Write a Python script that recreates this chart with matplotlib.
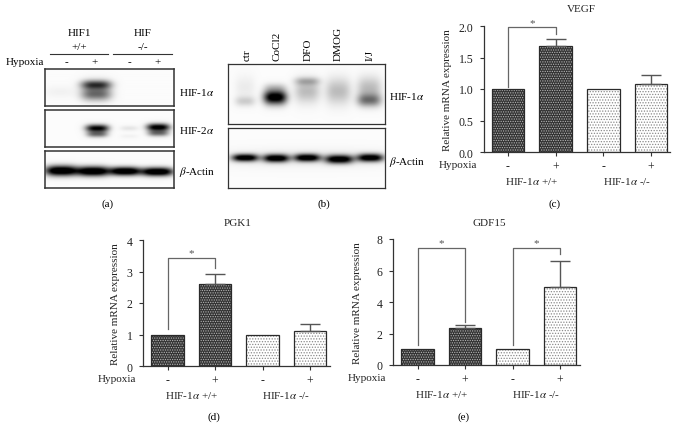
import numpy as np
import matplotlib
matplotlib.use("Agg")
import matplotlib.pyplot as plt

W = 682
H = 439

plt.rcParams['font.family'] = ['Liberation Serif', 'DejaVu Serif']
plt.rcParams['mathtext.fontset'] = 'stix'
plt.rcParams['hatch.linewidth'] = 0.6

hypoxia_signs = ['-', '+', '-', '+']
group_wt = r'HIF-1$\alpha$ +/+'
group_ko = r'HIF-1$\alpha$ -/-'

vegf_values = [1.0, 1.69, 1.0, 1.08]
vegf_errors = [0, 0.11, 0, 0.14]
vegf_ticks = [0.0, 0.5, 1.0, 1.5, 2.0]

pgk1_values = [1.0, 2.6, 1.0, 1.1]
pgk1_errors = [0, 0.31, 0, 0.24]
pgk1_ticks = [0, 1, 2, 3, 4]

gdf15_values = [1.0, 2.32, 1.0, 4.97]
gdf15_errors = [0, 0.2, 0, 1.62]
gdf15_ticks = [0, 2, 4, 6, 8]

treatments = ['ctr', 'CoCl2', 'DFO', 'DMOG', 'I/J']
treatment_x = [247, 277, 308, 338, 370]

# blot bands: centre x, centre y, half width, sigma y, strength (pixels of the figure)
blot_a1 = [(96, 86, 15, 3.0, 0.5), (96, 96, 15, 4, 0.3), (96, 91, 15, 6, 0.22), (60, 93, 16, 4, 0.03)]
blot_a2 = [(97, 129, 11.5, 2.6, 0.8), (97, 135, 10.5, 2.2, 0.42),
           (158, 128, 11.5, 2.6, 0.85), (158, 134, 10.5, 2.2, 0.42),
           (129, 129, 9, 1.8, 0.07), (129, 137, 9, 1.5, 0.03)]
blot_a3 = [(61, 171.5, 16, 3.6, 1.0), (93, 172, 16.5, 3.4, 1.0),
           (125, 172, 15, 3.0, 1.0), (157, 172.5, 16, 3.0, 1.0)]
blot_b1 = [(245, 102, 10, 3.5, 0.14), (245, 88, 10, 8, 0.05),
           (275, 98, 11.5, 5, 0.9), (275, 88, 11, 3, 0.12),
           (307, 82, 12.5, 2.8, 0.2), (307, 92, 12.5, 8, 0.2),
           (338, 92, 12.5, 9, 0.2), (369, 101, 12, 4.5, 0.4), (369, 89, 12, 8, 0.2)]
blot_b2 = [(245, 158.5, 13, 2.6, 0.9), (276, 159, 13, 2.8, 0.9), (307, 158.5, 13, 2.7, 0.9),
           (339, 160, 14, 3.0, 0.9), (370, 158.5, 13, 2.8, 0.9), (307, 159, 90, 6, 0.06)]


def px_axes(x0, y0, x1, y1):
    return fig.add_axes([x0 / W, 1 - y1 / H, (x1 - x0) / W, (y1 - y0) / H])


def draw_blot(x0, y0, x1, y1, bands, line_w=1.1):
    ax = px_axes(x0, y0, x1, y1)
    xx, yy = np.meshgrid(np.arange(x0, x1, 0.5), np.arange(y0, y1, 0.5))
    dark = np.zeros(xx.shape)
    for cx, cy, hw, sy, s in bands:
        dark += s * np.exp(-np.abs((xx - cx) / hw) ** 3) * np.exp(-((yy - cy) / sy) ** 2 / 2)
    img = 1 - 1.25 * np.clip(dark, 0, 1) - 0.015
    ax.imshow(img, cmap='gray', vmin=0, vmax=1, aspect='auto', interpolation='bilinear',
              extent=(x0, x1, y1, y0))
    ax.set_xticks([])
    ax.set_yticks([])
    for s in ax.spines.values():
        s.set_linewidth(line_w)
        s.set_color('#333333')


def draw_bars(box, centers, values, errors, ticks, ymax, fmt, brackets, title, title_x, title_y, label_x):
    x0, y0, x1, y1 = box
    ax = px_axes(x0, y0, x1, y1)
    step = (centers[3] - centers[0]) / 3
    ax.set_xlim((x0 - centers[0]) / step, (x1 - centers[0]) / step)
    ax.set_ylim(0, ymax)
    x = np.arange(4)
    ax.bar(x[:2], values[:2], 0.68, facecolor='#333333', edgecolor='#b5b5b5', hatch='.......', linewidth=0)
    ax.bar(x[2:], values[2:], 0.68, facecolor='white', edgecolor='#8a8a8a', hatch='......', linewidth=0)
    ax.bar(x, values, 0.68, fill=False, edgecolor='#2a2a2a', linewidth=0.9)
    for i in range(4):
        if errors[i] > 0:
            ax.errorbar(x[i], values[i], yerr=[[0], [errors[i]]], color='#555555', capsize=7.5,
                        linewidth=1, capthick=1)
    ax.set_xticks(x)
    ax.set_xticklabels(hypoxia_signs, fontsize=8.5)
    ax.set_yticks(ticks)
    ax.set_yticklabels([fmt % t for t in ticks], fontsize=8.5)
    ax.tick_params(axis='both', length=3, width=0.8, pad=4.5, color='#333333', labelcolor='#222222')
    ax.tick_params(axis='x', pad=3)
    ax.set_ylabel('Relative mRNA expression', fontsize=8, color='#222222')
    ax.yaxis.set_label_coords((label_x - x0) / (x1 - x0), 0.5)
    for s in ['top', 'right']:
        ax.spines[s].set_visible(False)
    for s in ['left', 'bottom']:
        ax.spines[s].set_linewidth(0.9)
        ax.spines[s].set_color('#333333')
    for a, b, ya, ytop, yb in brackets:
        ax.plot([a, a, b, b], [ya, ytop, ytop, yb], color='#666666', linewidth=0.9, clip_on=False)
        ax.text((a + b) / 2, ytop + ymax * 0.005, '*', ha='center', va='bottom', fontsize=8,
                color='#555555', clip_on=False)
    over.text(title_x, title_y, title, ha='center', va='center', fontsize=8, color='#222222')
    over.text(x0 - 26, y1 + 13, 'Hypoxia', ha='center', va='center', fontsize=8, color='#222222')
    over.text((centers[0] + centers[1]) / 2, y1 + 29, group_wt, ha='center', va='center', fontsize=8, color='#222222')
    over.text((centers[2] + centers[3]) / 2, y1 + 29, group_ko, ha='center', va='center', fontsize=8, color='#222222')


fig = plt.figure(figsize=(W / 100, H / 100), dpi=100)
over = fig.add_axes([0, 0, 1, 1])
over.set_xlim(0, W)
over.set_ylim(H, 0)
over.axis('off')
over.set_zorder(5)

# (a)
draw_blot(45, 70, 174, 107, blot_a1)
draw_blot(45, 111, 174, 148, blot_a2)
draw_blot(45, 152, 174, 189, blot_a3)
over.plot([50, 108], [55, 55], color='#333333', linewidth=0.8)
over.plot([113, 172], [55, 55], color='#333333', linewidth=0.8)
over.text(79, 34, 'HIF1', ha='center', va='center', fontsize=8)
over.text(79, 47, '+/+', ha='center', va='center', fontsize=8)
over.text(143, 34, 'HIF', ha='center', va='center', fontsize=8)
over.text(143, 47, '-/-', ha='center', va='center', fontsize=8)
over.text(44.5, 62.5, 'Hypoxia', ha='right', va='center', fontsize=8)
for xp, sign in zip([66, 95, 129, 158], hypoxia_signs):
    over.text(xp, 62.5, sign, ha='center', va='center', fontsize=8)
over.text(179, 92, r'HIF-1$\alpha$', ha='left', va='center', fontsize=8)
over.text(179, 131, r'HIF-2$\alpha$', ha='left', va='center', fontsize=8)
over.text(179, 172, r'$\beta$-Actin', ha='left', va='center', fontsize=8)
over.text(108, 204, '(a)', ha='center', va='center', fontsize=8)

# (b)
draw_blot(228, 65, 385, 125, blot_b1, 0.9)
draw_blot(228, 129, 385, 189, blot_b2, 0.9)
for xp, name in zip(treatment_x, treatments):
    over.text(xp, 61, name, rotation=90, ha='center', va='bottom', fontsize=8)
over.text(389, 97, r'HIF-1$\alpha$', ha='left', va='center', fontsize=8)
over.text(389, 162, r'$\beta$-Actin', ha='left', va='center', fontsize=8)
over.text(324, 204, '(b)', ha='center', va='center', fontsize=8)

# (c), (d), (e)
draw_bars((484, 27, 670, 153), [508, 555.5, 603, 651], vegf_values, vegf_errors, vegf_ticks, 2.0,
          '%.1f', [(0, 1, 1.03, 1.98, 1.88)], 'VEGF', 581, 10, 452)
over.text(555, 204, '(c)', ha='center', va='center', fontsize=8)

draw_bars((143, 241, 330, 367), [167.5, 215, 262, 310], pgk1_values, pgk1_errors, pgk1_ticks, 4,
          '%d', [(0, 1, 1.18, 3.43, 3.1)], 'PGK1', 238, 224, 120)
over.text(214, 417, '(d)', ha='center', va='center', fontsize=8)

draw_bars((393, 240, 580, 366), [417.5, 465, 512, 560], gdf15_values, gdf15_errors, gdf15_ticks, 8,
          '%d', [(0, 1, 1.3, 7.43, 2.7), (2, 3, 1.3, 7.43, 7.05)], 'GDF15', 489, 224, 362)
over.text(464, 417, '(e)', ha='center', va='center', fontsize=8)

fig.savefig('out.png', dpi=100)
